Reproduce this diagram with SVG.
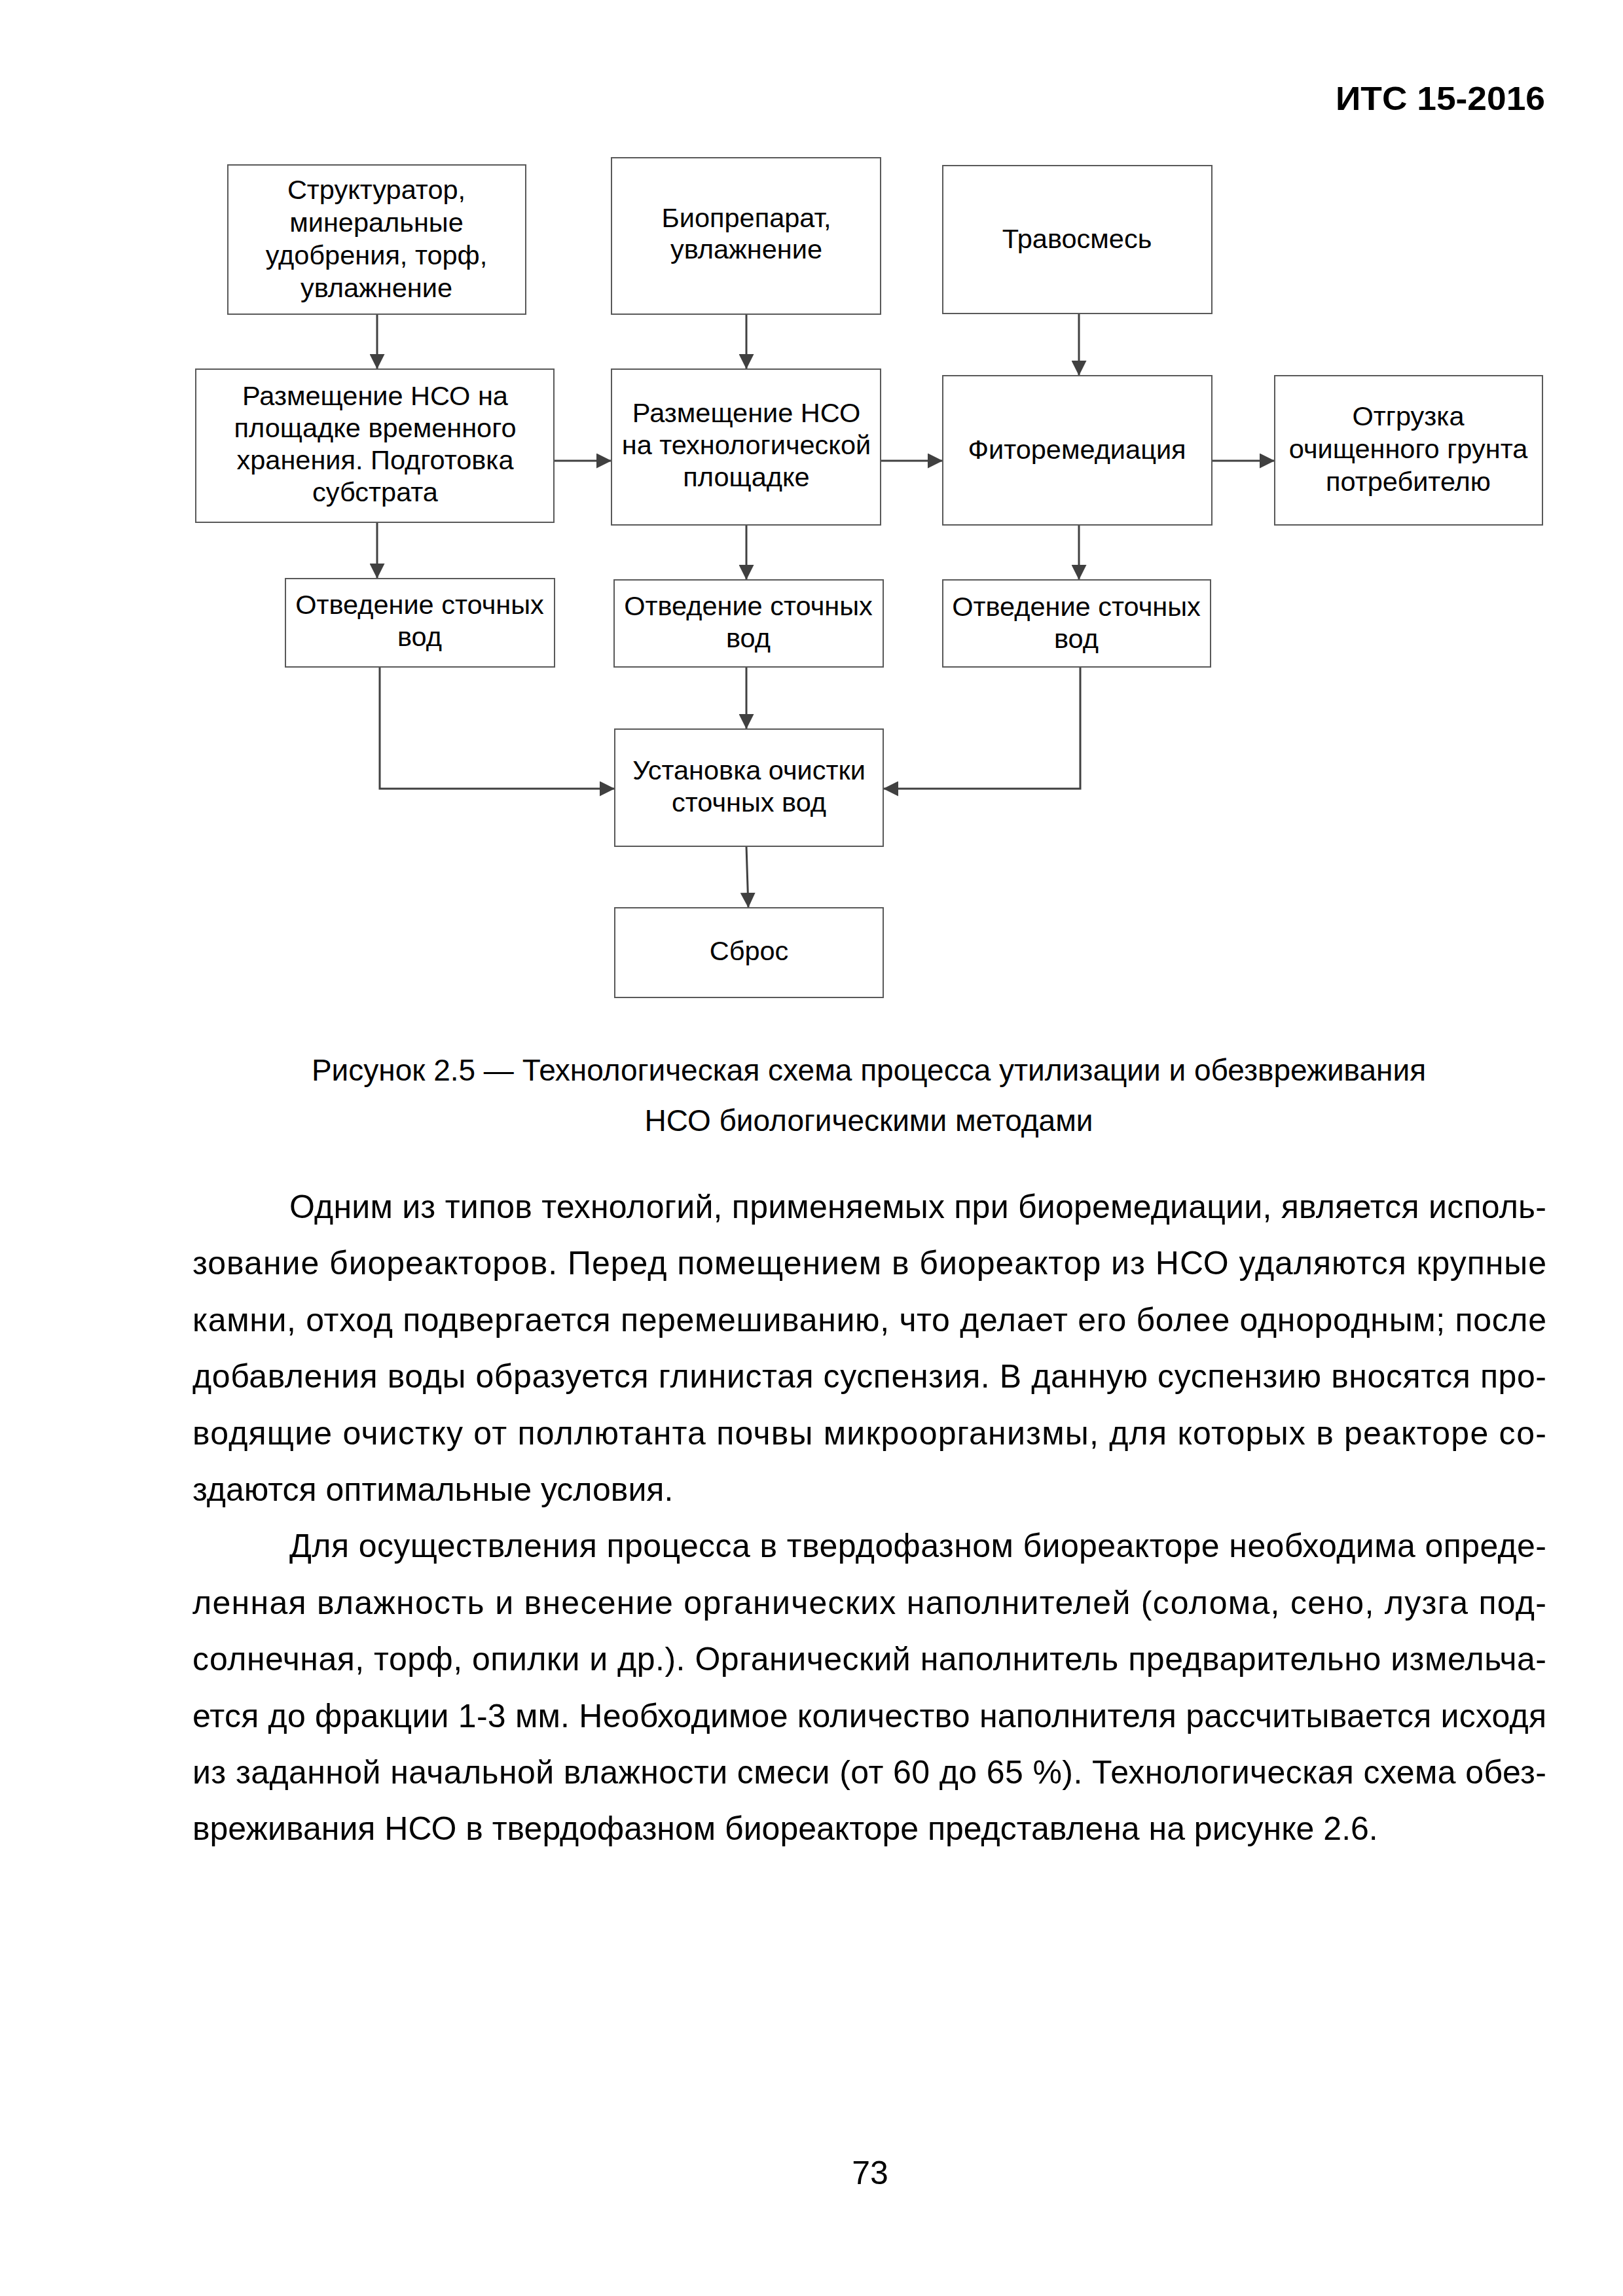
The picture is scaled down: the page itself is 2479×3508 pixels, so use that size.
<svg xmlns="http://www.w3.org/2000/svg" width="2479" height="3508" viewBox="0 0 2479 3508">
<style>
.box{fill:#fff;stroke:#595959;stroke-width:2}
.lbl{font-family:"Liberation Sans",Arial,sans-serif;font-size:41.5px;fill:#000;text-anchor:middle}
.conn{stroke:#404040;stroke-width:3;fill:none}
.txt{font-family:"Liberation Sans",Arial,sans-serif;font-size:50px;fill:#000}
.cap{font-family:"Liberation Sans",Arial,sans-serif;font-size:46px;fill:#000;text-anchor:middle}
</style>
<defs>
<marker id="arr" markerUnits="userSpaceOnUse" markerWidth="23" markerHeight="23" viewBox="0 0 23 23" refX="23" refY="11.5" orient="auto">
<path d="M0,0 L23,11.5 L0,23 z" fill="#404040"/>
</marker>
</defs>
<rect width="2479" height="3508" fill="#fff"/>

<text class="txt" x="2360" y="168" text-anchor="end" font-weight="bold" font-size="52" textLength="320" lengthAdjust="spacingAndGlyphs">ИТС 15-2016</text>

<g id="connectors">
<line class="conn" x1="576" y1="480" x2="576" y2="564" marker-end="url(#arr)"/>
<line class="conn" x1="1140" y1="480" x2="1140" y2="564" marker-end="url(#arr)"/>
<line class="conn" x1="1648" y1="479" x2="1648" y2="574" marker-end="url(#arr)"/>
<line class="conn" x1="846" y1="704" x2="934" y2="704" marker-end="url(#arr)"/>
<line class="conn" x1="1345" y1="704" x2="1440" y2="704" marker-end="url(#arr)"/>
<line class="conn" x1="1851" y1="704" x2="1947" y2="704" marker-end="url(#arr)"/>
<line class="conn" x1="576" y1="798" x2="576" y2="884" marker-end="url(#arr)"/>
<line class="conn" x1="1140" y1="802" x2="1140" y2="886" marker-end="url(#arr)"/>
<line class="conn" x1="1648" y1="802" x2="1648" y2="886" marker-end="url(#arr)"/>
<polyline class="conn" points="580,1019 580,1205 939,1205" marker-end="url(#arr)"/>
<line class="conn" x1="1140" y1="1019" x2="1140" y2="1114" marker-end="url(#arr)"/>
<polyline class="conn" points="1650,1019 1650,1205 1349,1205" marker-end="url(#arr)"/>
<line class="conn" x1="1140" y1="1293" x2="1143" y2="1387" marker-end="url(#arr)"/>
</g>

<g id="n1">
<rect class="box" x="348" y="252" width="455" height="228"/>
<text class="lbl" x="575" y="304">Структуратор,</text>
<text class="lbl" x="575" y="354">минеральные</text>
<text class="lbl" x="575" y="404">удобрения, торф,</text>
<text class="lbl" x="575" y="454">увлажнение</text>
</g>
<g id="n2">
<rect class="box" x="934" y="241" width="411" height="239"/>
<text class="lbl" x="1140" y="347">Биопрепарат,</text>
<text class="lbl" x="1140" y="395">увлажнение</text>
</g>
<g id="n3">
<rect class="box" x="1440" y="253" width="411" height="226"/>
<text class="lbl" x="1645" y="379">Травосмесь</text>
</g>
<g id="n4">
<rect class="box" x="299" y="564" width="547" height="234"/>
<text class="lbl" x="573" y="619">Размещение НСО на</text>
<text class="lbl" x="573" y="668">площадке временного</text>
<text class="lbl" x="573" y="717">хранения. Подготовка</text>
<text class="lbl" x="573" y="766">субстрата</text>
</g>
<g id="n5">
<rect class="box" x="934" y="564" width="411" height="238"/>
<text class="lbl" x="1140" y="645">Размещение НСО</text>
<text class="lbl" x="1140" y="694">на технологической</text>
<text class="lbl" x="1140" y="743">площадке</text>
</g>
<g id="n6">
<rect class="box" x="1440" y="574" width="411" height="228"/>
<text class="lbl" x="1645" y="701">Фиторемедиация</text>
</g>
<g id="n7">
<rect class="box" x="1947" y="574" width="409" height="228"/>
<text class="lbl" x="2151" y="650">Отгрузка</text>
<text class="lbl" x="2151" y="700">очищенного грунта</text>
<text class="lbl" x="2151" y="750">потребителю</text>
</g>
<g id="n8">
<rect class="box" x="436" y="884" width="411" height="135"/>
<text class="lbl" x="641" y="938">Отведение сточных</text>
<text class="lbl" x="641" y="987">вод</text>
</g>
<g id="n9">
<rect class="box" x="938" y="886" width="411" height="133"/>
<text class="lbl" x="1143" y="940">Отведение сточных</text>
<text class="lbl" x="1143" y="989">вод</text>
</g>
<g id="n10">
<rect class="box" x="1440" y="886" width="409" height="133"/>
<text class="lbl" x="1644" y="941">Отведение сточных</text>
<text class="lbl" x="1644" y="990">вод</text>
</g>
<g id="n11">
<rect class="box" x="939" y="1114" width="410" height="179"/>
<text class="lbl" x="1144" y="1191">Установка очистки</text>
<text class="lbl" x="1144" y="1240">сточных вод</text>
</g>
<g id="n12">
<rect class="box" x="939" y="1387" width="410" height="137"/>
<text class="lbl" x="1144" y="1467">Сброс</text>
</g>

<text class="cap" x="1327" y="1651">Рисунок 2.5 — Технологическая схема процесса утилизации и обезвреживания</text>
<text class="cap" x="1327" y="1728">НСО биологическими методами</text>

<g id="body">
<text class="txt" x="442" y="1861" textLength="1920" lengthAdjust="spacing">Одним из типов технологий, применяемых при биоремедиации, является исполь-</text>
<text class="txt" x="294" y="1947" textLength="2068" lengthAdjust="spacing">зование биореакторов. Перед помещением в биореактор из НСО удаляются крупные</text>
<text class="txt" x="294" y="2034" textLength="2068" lengthAdjust="spacing">камни, отход подвергается перемешиванию, что делает его более однородным; после</text>
<text class="txt" x="294" y="2120" textLength="2068" lengthAdjust="spacing">добавления воды образуется глинистая суспензия. В данную суспензию вносятся про-</text>
<text class="txt" x="294" y="2207" textLength="2068" lengthAdjust="spacing">водящие очистку от поллютанта почвы микроорганизмы, для которых в реакторе со-</text>
<text class="txt" x="294" y="2293">здаются оптимальные условия.</text>
<text class="txt" x="442" y="2379" textLength="1920" lengthAdjust="spacing">Для осуществления процесса в твердофазном биореакторе необходима опреде-</text>
<text class="txt" x="294" y="2466" textLength="2068" lengthAdjust="spacing">ленная влажность и внесение органических наполнителей (солома, сено, лузга под-</text>
<text class="txt" x="294" y="2552" textLength="2068" lengthAdjust="spacing">солнечная, торф, опилки и др.). Органический наполнитель предварительно измельча-</text>
<text class="txt" x="294" y="2639" textLength="2068" lengthAdjust="spacing">ется до фракции 1-3 мм. Необходимое количество наполнителя рассчитывается исходя</text>
<text class="txt" x="294" y="2725" textLength="2068" lengthAdjust="spacing">из заданной начальной влажности смеси (от 60 до 65 %). Технологическая схема обез-</text>
<text class="txt" x="294" y="2811">вреживания НСО в твердофазном биореакторе представлена на рисунке 2.6.</text>
</g>

<text class="txt" x="1329" y="3337" text-anchor="middle">73</text>
</svg>
